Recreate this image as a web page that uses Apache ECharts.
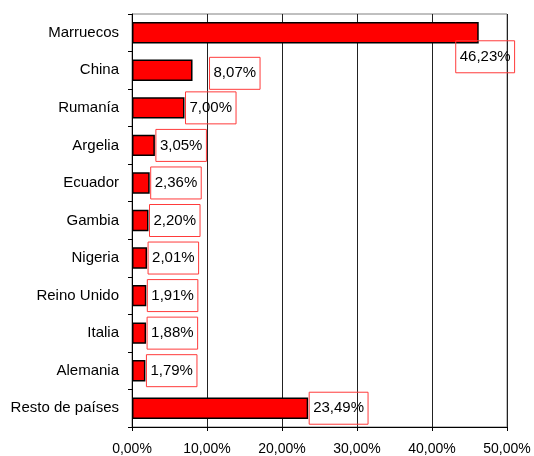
<!DOCTYPE html>
<html>
<head>
<meta charset="utf-8">
<script src="https://cdn.jsdelivr.net/npm/echarts@6/dist/echarts.min.js"></script>
<style>
  html, body { margin: 0; padding: 0; background: #fff; }
  #chart { width: 534px; height: 456px; }
</style>
</head>
<body>
<div id="chart"></div>
<script>
/*数据*/
var paises = ["Marruecos", "China", "Rumanía", "Argelia", "Ecuador", "Gambia", "Nigeria", "Reino Unido", "Italia", "Alemania", "Resto de países"];
var porcentajes = [46.23, 8.07, 7.00, 3.05, 2.36, 2.20, 2.01, 1.91, 1.88, 1.79, 23.49];
var ejeTicks = [0, 10, 20, 30, 40, 50];

function fmt(v) {
    return v.toFixed(2).replace('.', ',') + '%';
}

/*标签偏移: Marruecos 在柱子下面, China 往右*/
var offsets = { "Marruecos": [-24, 24], "China": [16, 3] };

var datos = porcentajes.map(function (v, i) {
    var d = { value: v };
    if (offsets[paises[i]]) {
        d.label = { offset: offsets[paises[i]] };
    }
    return d;
});

var chart = echarts.init(document.getElementById('chart'));
chart.setOption({
    animation: false,
    textStyle: { fontFamily: 'Liberation Sans, Arial, sans-serif' },
    grid: {
        left: 132,
        right: 27,
        top: 14,
        bottom: 28,
        show: true,
        borderColor: '#808080',
        borderWidth: 1
    },
    xAxis: {
        type: 'value',
        min: ejeTicks[0],
        max: ejeTicks[ejeTicks.length - 1],
        interval: 10,
        axisLine: { show: true, lineStyle: { color: '#000', width: 1 } },
        axisTick: { show: true, length: 4, lineStyle: { color: '#000' } },
        axisLabel: {
            color: '#000',
            fontSize: 14,
            margin: 15,
            formatter: function (v) { return fmt(v); }
        },
        splitLine: { show: true, lineStyle: { color: '#222', width: 1 } }
    },
    yAxis: {
        type: 'category',
        data: paises,
        inverse: true,
        axisLine: { show: true, lineStyle: { color: '#000', width: 1 } },
        axisTick: { show: true, length: 4, lineStyle: { color: '#000' } },
        axisLabel: { color: '#000', fontSize: 15, margin: 13 },
        splitLine: { show: false }
    },
    series: [
        {
            type: 'bar',
            data: datos,
            barCategoryGap: '43%',
            itemStyle: {
                color: '#ff0000',
                borderColor: '#000',
                borderWidth: 1.5
            },
            label: {
                show: true,
                position: 'right',
                distance: 1,
                color: '#000',
                fontSize: 15,
                lineHeight: 16,
                padding: [9, 4, 7, 4],
                borderColor: '#ff3b3b',
                borderWidth: 1,
                formatter: function (p) { return fmt(p.value); }
            }
        }
    ]
});
</script>
</body>
</html>
